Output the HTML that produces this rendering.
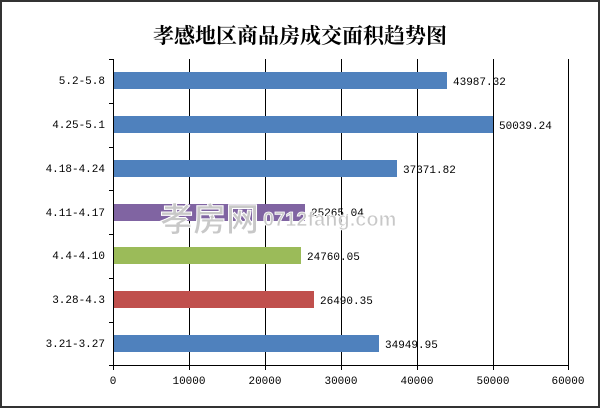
<!DOCTYPE html>
<html><head><meta charset="utf-8"><style>
body{margin:0;background:#fff}
svg{display:block}
text{font-family:"Liberation Mono","Noto Sans CJK SC",monospace;font-size:11px;fill:#000}
</style></head><body>
<svg width="600" height="408" viewBox="0 0 600 408">
<rect x="1" y="1" width="598" height="406" fill="#fff" stroke="#333" stroke-width="2"/>
<text x="300" y="43" text-anchor="middle" style="font-family:'Noto Serif CJK SC','Noto Sans CJK SC',serif;font-size:21px;font-weight:bold">孝感地区商品房成交面积趋势图</text>
<g stroke="#000" stroke-width="1">
<line x1="189.5" y1="59" x2="189.5" y2="366"/>
<line x1="265.5" y1="59" x2="265.5" y2="366"/>
<line x1="341.5" y1="59" x2="341.5" y2="366"/>
<line x1="417.5" y1="59" x2="417.5" y2="366"/>
<line x1="493.5" y1="59" x2="493.5" y2="366"/>
<line x1="568.5" y1="59" x2="568.5" y2="366"/>
<line x1="113.5" y1="59" x2="113.5" y2="370"/>
<line x1="109" y1="365.5" x2="569" y2="365.5"/>
<line x1="109" y1="59.5" x2="113" y2="59.5"/>
<line x1="109" y1="103.5" x2="113" y2="103.5"/>
<line x1="109" y1="147.5" x2="113" y2="147.5"/>
<line x1="109" y1="190.5" x2="113" y2="190.5"/>
<line x1="109" y1="234.5" x2="113" y2="234.5"/>
<line x1="109" y1="278.5" x2="113" y2="278.5"/>
<line x1="109" y1="322.5" x2="113" y2="322.5"/>
<line x1="189.5" y1="366" x2="189.5" y2="370"/>
<line x1="265.5" y1="366" x2="265.5" y2="370"/>
<line x1="341.5" y1="366" x2="341.5" y2="370"/>
<line x1="417.5" y1="366" x2="417.5" y2="370"/>
<line x1="493.5" y1="366" x2="493.5" y2="370"/>
<line x1="568.5" y1="366" x2="568.5" y2="370"/>
</g>
<rect x="114" y="72" width="333" height="17" fill="#4f81bd"/>
<rect x="114" y="116" width="379" height="17" fill="#4f81bd"/>
<rect x="114" y="160" width="283" height="17" fill="#4f81bd"/>
<rect x="114" y="204" width="191" height="17" fill="#8064a2"/>
<rect x="114" y="247" width="187" height="17" fill="#9bbb59"/>
<rect x="114" y="291" width="200" height="17" fill="#c0504d"/>
<rect x="114" y="335" width="265" height="17" fill="#4f81bd"/>
<g text-anchor="end">
<text x="105" y="84">5.2-5.8</text>
<text x="105" y="128">4.25-5.1</text>
<text x="105" y="172">4.18-4.24</text>
<text x="105" y="216">4.11-4.17</text>
<text x="105" y="259">4.4-4.10</text>
<text x="105" y="303">3.28-4.3</text>
<text x="105" y="347">3.21-3.27</text>
</g>
<text x="453" y="85">43987.32</text>
<text x="499" y="129">50039.24</text>
<text x="403" y="173">37371.82</text>
<text x="311" y="216">25265.04</text>
<text x="307" y="260">24760.05</text>
<text x="320" y="304">26490.35</text>
<text x="385" y="348">34949.95</text>
<g text-anchor="middle">
<text x="113" y="384">0</text>
<text x="189" y="384">10000</text>
<text x="265" y="384">20000</text>
<text x="341" y="384">30000</text>
<text x="417" y="384">40000</text>
<text x="493" y="384">50000</text>
<text x="568" y="384">60000</text>
</g>
<text x="160" y="231" style="font-family:'Noto Sans CJK SC',sans-serif;font-size:33px;font-weight:bold;fill:#c8c8c8;stroke:#fff;stroke-width:1">孝房网</text>
<text x="263" y="226" style="font-family:'Liberation Sans',sans-serif;font-size:20px;font-weight:bold;fill:#c8c8c8;stroke:#fff;stroke-width:0.8">0712fang.com</text>
</svg>
</body></html>
